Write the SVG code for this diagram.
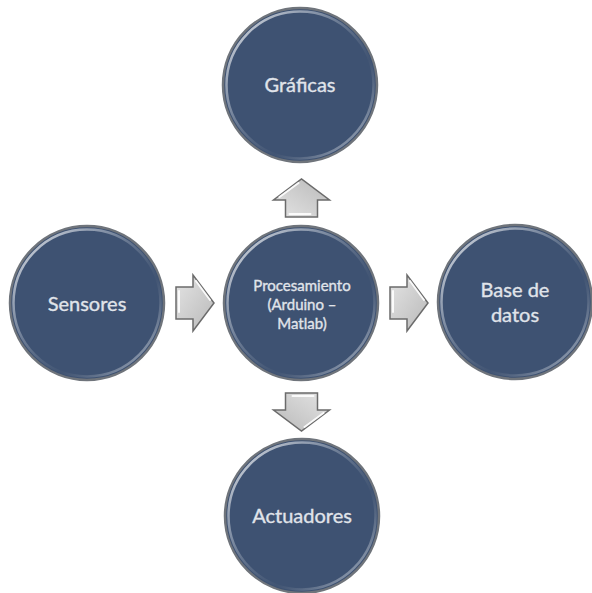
<svg xmlns="http://www.w3.org/2000/svg" width="592" height="593" viewBox="0 0 592 593">
  <defs>
    <linearGradient id="rim" x1="0" y1="0" x2="1" y2="1">
      <stop offset="0" stop-color="#ffffff" stop-opacity="0.9"/>
      <stop offset="0.35" stop-color="#b9c2cf" stop-opacity="0.5"/>
      <stop offset="0.65" stop-color="#4a5b76" stop-opacity="0.3"/>
      <stop offset="1" stop-color="#e6ebf2" stop-opacity="0.9"/>
    </linearGradient>
    <linearGradient id="arrowFill" x1="0" y1="0" x2="1" y2="1">
      <stop offset="0" stop-color="#e4e4e4"/>
      <stop offset="1" stop-color="#b9b9b9"/>
    </linearGradient>
    <!-- one node disc, reused for every node -->
    <g id="disc">
      <circle r="77" fill="#3e5272" stroke="#6f747b" stroke-width="2.5"/>
      <circle r="73.5" fill="none" stroke="url(#rim)" stroke-width="2.5"/>
    </g>
    <!-- block arrow pointing right, tip at origin -->
    <g id="blockArrow">
      <path d="M-38,-16 H-21 V-28 L0,0 L-21,28 V16 H-38 Z" fill="url(#arrowFill)" stroke="#6b6b6b" stroke-width="1.5" stroke-linejoin="miter"/>
      <path d="M-35,-12 V9" stroke="#ffffff" stroke-width="2" stroke-linecap="round" opacity="0.9"/>
      <path d="M-18,-22 L-4,-3" stroke="#ffffff" stroke-width="2" stroke-linecap="round" opacity="0.9"/>
    </g>
  </defs>
  <style>
    .lbl { font-family: "Lato", "Open Sans", "Liberation Sans", sans-serif; fill: #e0e4ea; stroke: #e0e4ea; stroke-width: 0.35; text-anchor: middle; }
    .big { font-size: 20px; }
    .small { font-size: 15px; }
  </style>
  <rect width="592" height="593" fill="#ffffff"/>

  <g id="connectors">
    <use href="#blockArrow" transform="translate(214,303)"/>
    <use href="#blockArrow" transform="translate(428,303)"/>
    <use href="#blockArrow" transform="translate(301.5,179) rotate(-90)"/>
    <use href="#blockArrow" transform="translate(301.5,431) rotate(90)"/>
  </g>

  <g id="graficas">
    <use href="#disc" transform="translate(300,85)"/>
    <text class="lbl big" x="300" y="92">Gráficas</text>
  </g>

  <g id="sensores">
    <use href="#disc" transform="translate(87,303)"/>
    <text class="lbl big" x="87" y="311">Sensores</text>
  </g>

  <g id="procesamiento">
    <use href="#disc" transform="translate(301,303)"/>
    <text class="lbl small" x="302" y="291">Procesamiento</text>
    <text class="lbl small" x="302" y="310">(Arduino –</text>
    <text class="lbl small" x="302" y="329">Matlab)</text>
  </g>

  <g id="base-de-datos">
    <use href="#disc" transform="translate(515,302)"/>
    <text class="lbl big" x="515" y="297">Base de</text>
    <text class="lbl big" x="515" y="322">datos</text>
  </g>

  <g id="actuadores">
    <use href="#disc" transform="translate(302,516)"/>
    <text class="lbl big" x="302" y="523">Actuadores</text>
  </g>
</svg>
